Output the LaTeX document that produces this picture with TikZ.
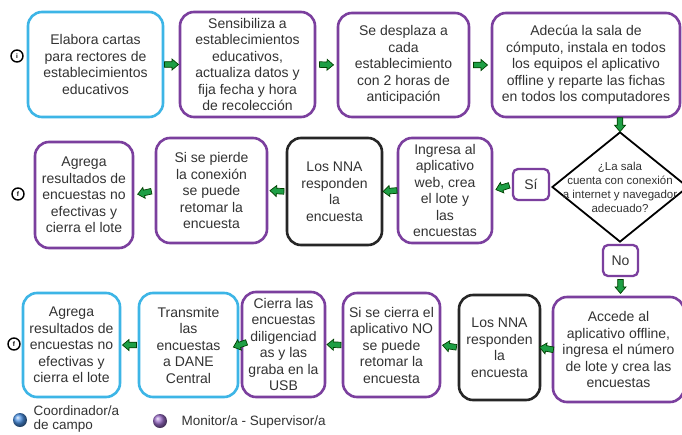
\documentclass[tikz,border=0pt]{standalone}
\usepackage{fontspec}
\setmainfont{Liberation Sans}
\usetikzlibrary{shapes.geometric}
\definecolor{cblue}{HTML}{3DB5E6}
\definecolor{cpurple}{HTML}{7B3F9E}
\definecolor{cgreen}{HTML}{1E9F45}
\definecolor{ctext}{HTML}{333333}
\definecolor{lgblue}{HTML}{4A8FE0}
\definecolor{lgpurple}{HTML}{9A6CC8}
\tikzset{
  x=1pt,y=-1pt,
  boxbase/.style={rounded corners=14pt, line width=2.6pt, fill=white, align=center,
    text=ctext, inner sep=2pt, font=\fontsize{14}{16.5}\selectfont},
  bluebox/.style={boxbase, draw=cblue},
  purplebox/.style={boxbase, draw=cpurple},
  blackbox/.style={boxbase, draw=black!85},
  sz/.style 2 args={minimum width=#1pt, minimum height=#2pt},
  garrowpic/.pic={\draw[draw=black!75!green, fill=cgreen, line width=0.7pt, line join=miter]
    (-7,-2.8) -- (0.5,-2.8) -- (0.5,-5.5) -- (7,0) -- (0.5,5.5) -- (0.5,2.8) -- (-7,2.8) -- cycle;},
  garrow/.style={sloped, allow upside down, pos=0.5},
  endpoint/.style={circle, draw=black, line width=1.4pt, minimum size=12pt, inner sep=0pt,
    font=\fontsize{6.5}{6.5}\selectfont\bfseries},
  decision/.style={diamond, draw=black, line width=1.8pt, fill=white,
    inner sep=0pt, minimum width=136pt, minimum height=110pt},
  decisiontext/.style={align=center, text=ctext, font=\fontsize{11.5}{14}\selectfont},
  answer/.style={rounded corners=5pt, draw=cpurple, line width=2.3pt, fill=white, text=ctext,
    font=\fontsize{14}{16}\selectfont, inner sep=0pt},
  legendtext/.style={anchor=west, align=left, text=ctext, font=\fontsize{13.5}{14}\selectfont}
}
\begin{document}
\begin{tikzpicture}
\useasboundingbox (0,0) rectangle (682,434);
\fill[white] (0,0) rectangle (682,434);
% row 1
\node[endpoint] (ini) at (17,56) {i};
\node[bluebox, sz={135}{105}] (b1) at (95.5,64.5) {Elabora cartas\\para rectores de\\establecimientos\\educativos};
\node[purplebox, sz={135}{105}] (b2) at (247.5,64.5) {Sensibiliza a\\establecimientos\\educativos,\\actualiza datos y\\fija fecha y hora\\de recolección};
\node[purplebox, sz={131}{104}] (b3) at (403.5,65) {Se desplaza a\\cada\\establecimiento\\con 2 horas de\\anticipación};
\node[purplebox, sz={188}{104}] (b4) at (586,65) {Adecúa la sala de\\cómputo, instala en todos\\los equipos el aplicativo\\offline y reparte las fichas\\en todos los computadores};
% row 2
\node[decision] (d) at (620,187) {};
\node[decisiontext] (dt) at (d.center) {¿La sala\\cuenta con conexión\\a internet y navegador\\adecuado?};
\node[answer, sz={36}{31}] (si) at (531,184.5) {Sí};
\node[purplebox, sz={94}{105}] (b5) at (445,190.5) {Ingresa al\\aplicativo\\web, crea\\el lote y\\las\\encuestas};
\node[blackbox, sz={95}{107}] (b6) at (334.5,191.5) {Los NNA\\responden\\la\\encuesta};
\node[purplebox, sz={111}{105}] (b7) at (211.5,190.5) {Si se pierde\\la conexión\\se puede\\retomar la\\encuesta};
\node[purplebox, sz={98}{106}] (b8) at (84,195) {Agrega\\resultados de\\encuestas no\\efectivas y\\cierra el lote};
\node[endpoint] (fin1) at (18,194) {f};
\node[answer, sz={35}{31}] (no) at (620.5,260.5) {No};
% row 3
\node[purplebox, sz={131}{105}] (c1) at (618.5,349.5) {Accede al\\aplicativo offline,\\ingresa el número\\de lote y crea las\\encuestas};
\node[blackbox, sz={81}{105}] (c2) at (499.5,347.5) {Los NNA\\responden\\la\\encuesta};
\node[purplebox, sz={97}{104}] (c3) at (391.5,345) {Si se cierra el\\aplicativo NO\\se puede\\retomar la\\encuesta};
\node[purplebox, sz={83}{105}] (c4) at (283.5,344.5) {Cierra las\\encuestas\\diligenciad\\as y las\\graba en la\\USB};
\node[bluebox, sz={99}{104}] (c5) at (188.5,345) {Transmite\\las\\encuestas\\a DANE\\Central};
\node[bluebox, sz={97}{104}] (c6) at (71.5,345) {Agrega\\resultados de\\encuestas no\\efectivas y\\cierra el lote};
\node[endpoint] (fin2) at (14,344) {f};
% connectors
\path (b1.east) -- (b2.west) pic[garrow] {garrowpic};
\path (b2.east) -- (b3.west) pic[garrow] {garrowpic};
\path (b3.east) -- (b4.west) pic[garrow] {garrowpic};
\path (b4.south -| d.north) -- (d.north) pic[garrow] {garrowpic};
\path (si.west) -- (b5.east) pic[garrow] {garrowpic};
\path (b5.west) -- (b6.east) pic[garrow] {garrowpic};
\path (b6.west) -- (b7.east) pic[garrow] {garrowpic};
\path (b7.west) -- (b8.east) pic[garrow] {garrowpic};
\path (no.south) -- (no.south |- c1.north) pic[garrow] {garrowpic};
\path (c1.west) -- (c2.east) pic[garrow] {garrowpic};
\path (c2.west) -- (c3.east) pic[garrow] {garrowpic};
\path (c3.west) -- (c4.east) pic[garrow] {garrowpic};
\path (c4.west) -- (c5.east) pic[garrow] {garrowpic};
\path (c5.west) -- (c6.east) pic[garrow] {garrowpic};
% legend
\shade[ball color=lgblue] (20,420) circle (7);
\node[legendtext] (lg1) at (30,419) {Coordinador/a\\de campo};
\shade[ball color=lgpurple] (160,421) circle (7);
\node[legendtext] (lg2) at (178,422) {Monitor/a - Supervisor/a};
\end{tikzpicture}
\end{document}
